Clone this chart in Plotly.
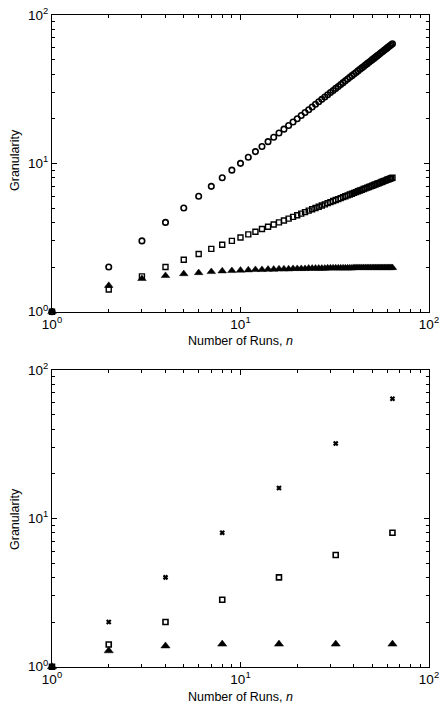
import plotly.graph_objects as go

# ---------------- data: top panel (n = 1..64) ----------------
n_top = list(range(1, 65))
circles_top = [1, 2, 3, 4, 5, 6, 7, 8, 9, 10, 11, 12, 13, 14, 15, 16,
               17, 18, 19, 20, 21, 22, 23, 24, 25, 26, 27, 28, 29, 30, 31, 32,
               33, 34, 35, 36, 37, 38, 39, 40, 41, 42, 43, 44, 45, 46, 47, 48,
               49, 50, 51, 52, 53, 54, 55, 56, 57, 58, 59, 60, 61, 62, 63, 64]
squares_top = [1.00, 1.41, 1.73, 2.00, 2.24, 2.45, 2.65, 2.83, 3.00, 3.16, 3.32, 3.46, 3.61, 3.74, 3.87, 4.00,
               4.12, 4.24, 4.36, 4.47, 4.58, 4.69, 4.80, 4.90, 5.00, 5.10, 5.20, 5.29, 5.39, 5.48, 5.57, 5.66,
               5.74, 5.83, 5.92, 6.00, 6.08, 6.16, 6.24, 6.32, 6.40, 6.48, 6.56, 6.63, 6.71, 6.78, 6.86, 6.93,
               7.00, 7.07, 7.14, 7.21, 7.28, 7.35, 7.42, 7.48, 7.55, 7.62, 7.68, 7.75, 7.81, 7.87, 7.94, 8.00]
triangles_top = [1.00, 1.50, 1.67, 1.75, 1.80, 1.83, 1.86, 1.88, 1.89, 1.90, 1.91, 1.92, 1.92, 1.93, 1.93, 1.94,
                 1.94, 1.94, 1.95, 1.95, 1.95, 1.95, 1.96, 1.96, 1.96, 1.96, 1.96, 1.96, 1.97, 1.97, 1.97, 1.97,
                 1.97, 1.97, 1.97, 1.97, 1.97, 1.97, 1.97, 1.98, 1.98, 1.98, 1.98, 1.98, 1.98, 1.98, 1.98, 1.98,
                 1.98, 1.98, 1.98, 1.98, 1.98, 1.98, 1.98, 1.98, 1.98, 1.98, 1.98, 1.98, 1.98, 1.98, 1.98, 1.98]

# ---------------- data: bottom panel (n = powers of two) ----------------
n_bot = [1, 2, 4, 8, 16, 32, 64]
stars_bot = [1, 2, 4, 8, 16, 32, 64]
squares_bot = [1.00, 1.41, 2.00, 2.83, 4.00, 5.66, 8.00]
triangles_bot = [1.00, 1.28, 1.38, 1.42, 1.42, 1.42, 1.42]

tick_vals = [1, 10, 100]
tick_text = ["10<sup>0</sup>", "10<sup>1</sup>", "10<sup>2</sup>"]

FONT = "Liberation Sans, Arial, Helvetica, sans-serif"
W, H = 439, 709

fig = go.Figure()

def add(x, y, symbol, size, xa, ya, lw=1.3):
    fig.add_trace(go.Scatter(
        x=x, y=y, mode="markers", xaxis=xa, yaxis=ya, cliponaxis=False,
        marker=dict(symbol=symbol, size=size, color="black",
                    line=dict(color="black", width=lw)),
        showlegend=False))

# top panel
add(n_top, circles_top, "circle-open", 5.5, "x", "y", 1.6)
add(n_top, squares_top, "square-open", 5, "x", "y", 1.4)
add(n_top, triangles_top, "triangle-up", 7.5, "x", "y", 0.5)
# bottom panel
add(n_bot, stars_bot, "x-thin-open", 4, "x2", "y2", 2.2)
add(n_bot, squares_bot, "square-open", 5, "x2", "y2", 1.6)
add(n_bot, triangles_bot, "triangle-up", 8, "x2", "y2", 0.5)

def axis(domain, anchor, side, labels=True, overlay=None):
    d = dict(
        type="log", range=[0, 2], domain=domain, anchor=anchor, side=side,
        automargin=False, ticklabeloverflow="allow",
        showgrid=False, zeroline=False,
        showline=True, linecolor="black", linewidth=1.2, mirror=False,
        ticks="inside", ticklen=5, tickwidth=1, tickcolor="black",
        tickvals=tick_vals, ticktext=tick_text, showticklabels=labels,
        tickfont=dict(family=FONT, size=13.5, color="black"),
        minor=dict(ticks="inside", ticklen=3, tickwidth=1, tickcolor="black",
                   showgrid=False, tickvals=[2, 3, 4, 5, 6, 7, 8, 9, 20, 30, 40, 50, 60, 70, 80, 90]),
    )
    if overlay:
        d["overlaying"] = overlay
    return d

xd = [52 / W, 429 / W]
top_y = [1 - 311.7 / H, 1 - 15 / H]
bot_y = [1 - 666.7 / H, 1 - 370 / H]

fig.update_layout(
    width=W, height=H,
    margin=dict(l=0, r=0, t=0, b=0, pad=0, autoexpand=False),
    paper_bgcolor="white", plot_bgcolor="white",
    font=dict(family=FONT, color="black"),
    xaxis=axis(xd, "y", "bottom"),
    yaxis=axis(top_y, "x", "left"),
    xaxis2=axis(xd, "y2", "bottom"),
    yaxis2=axis(bot_y, "x2", "left"),
    # mirrored frames (top / right) with inside ticks, no labels
    xaxis3=axis(xd, "y", "top", False, "x"),
    yaxis3=axis(top_y, "x", "right", False, "y"),
    xaxis4=axis(xd, "y2", "top", False, "x2"),
    yaxis4=axis(bot_y, "x2", "right", False, "y2"),
)

# invisible traces so the mirror axes are drawn
for xa, ya in (("x3", "y3"), ("x4", "y4")):
    fig.add_trace(go.Scatter(x=[1], y=[1], xaxis=xa, yaxis=ya, mode="markers",
                             marker=dict(opacity=0), hoverinfo="skip", showlegend=False))

def ann(text, xpx, ypx, angle=0):
    fig.add_annotation(text=text, x=xpx / W, y=1 - ypx / H, xref="paper", yref="paper",
                       showarrow=False, textangle=angle, xanchor="center", yanchor="middle",
                       font=dict(family=FONT, size=12.5, color="black"))

ann("Number of Runs, <i>n</i>", 240, 341)
ann("Number of Runs, <i>n</i>", 240, 697)
ann("Granularity", 15, 160, -90)
ann("Granularity", 15, 519, -90)

fig.write_html("out.html")
